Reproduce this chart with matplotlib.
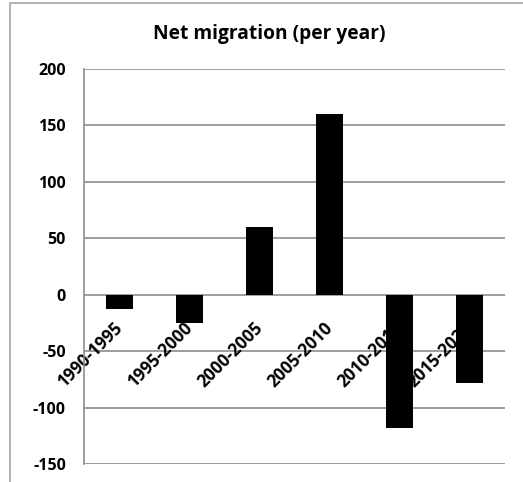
import matplotlib
matplotlib.use("Agg")
import matplotlib.pyplot as plt
from matplotlib.patches import Rectangle
from matplotlib.transforms import ScaledTranslation

periods = ["1990-1995", "1995-2000", "2000-2005", "2005-2010", "2010-2015", "2015-2020"]
net_migration = [-13, -25, 60, 160, -118, -78]
y_ticks = [-150, -100, -50, 0, 50, 100, 150, 200]

plt.rcParams['font.family'] = ['Open Sans', 'DejaVu Sans']
grey = "#8c8c8c"

fig = plt.figure(figsize=(5.23, 4.82), dpi=100)
ax = fig.add_axes([84 / 523, 1 - 464 / 482, 421 / 523, 395 / 482])

x = list(range(len(periods)))
ax.bar(x, net_migration, width=0.385, color="black", zorder=3)

ax.set_xlim(-0.5, len(periods) - 0.5)
ax.set_ylim(-150, 200)
ax.set_yticks(y_ticks)
ax.set_yticklabels([str(v) for v in y_ticks], fontweight="bold", fontsize=11.5)
ax.tick_params(axis="y", length=0, pad=13)
ax.set_xticks([])

# horizontal gridlines
ax.grid(axis="y", color=grey, linewidth=1.2, zorder=1)
for side in ["top", "right", "bottom"]:
    ax.spines[side].set_visible(False)
ax.spines["left"].set_color(grey)
ax.spines["left"].set_linewidth(1.2)

# category labels hang from the zero line
offset = ScaledTranslation(0.04, -0.34, fig.dpi_scale_trans)
for i, lab in enumerate(periods):
    ax.text(i, 0, lab, transform=ax.transData + offset, rotation=45,
            rotation_mode="anchor", ha="right", va="baseline",
            fontweight="bold", fontsize=12.3, zorder=2)

fig.text(0.515, 1 - 34 / 482, "Net migration (per year)", ha="center", va="center",
         fontweight="bold", fontsize=13.8)

# chart area border (cropped at right and bottom)
fig.patches.append(Rectangle((10 / 523, -0.1), 1.2, 1.1 - 3 / 482, transform=fig.transFigure,
                             fill=False, edgecolor="#a6a6a6", linewidth=1.2))

fig.savefig("out.png", dpi=100)
